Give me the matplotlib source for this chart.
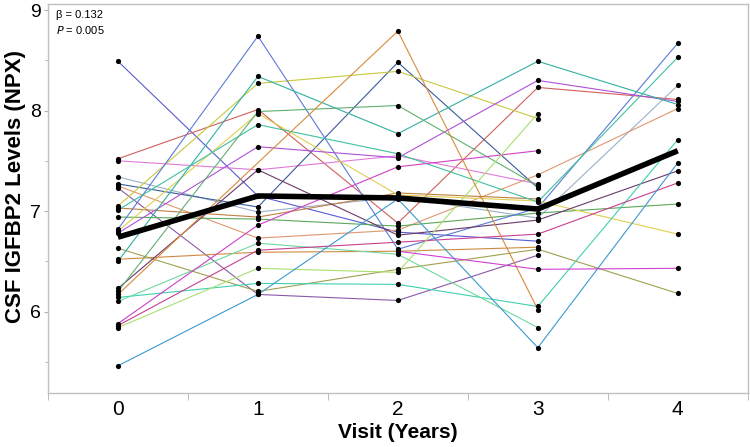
import numpy as np
import matplotlib
matplotlib.use("Agg")
import matplotlib.pyplot as plt
from matplotlib.ticker import FixedLocator

plt.rcParams['font.family'] = ['Liberation Sans', 'DejaVu Sans']

nan = np.nan
visits = [0, 1, 2, 3, 4]

# per-subject CSF IGFBP2 values at visits 0..4 (nan = no sample)
subjects = [
    [8.49, 7.15, 6.79, 6.70, nan],
    [7.52, 8.01, 6.88, 8.23, 8.11],
    [7.50, 7.41, 7.55, 7.27, nan],
    [7.34, 6.99, 7.14, 6.93, 8.25],
    [7.27, 7.04, 8.48, 7.23, nan],
    [7.25, 6.73, 6.81, 7.36, 8.02],
    [7.23, 6.17, 6.11, 6.56, nan],
    [7.05, 8.27, 8.39, 7.92, nan],
    [7.03, 6.94, 7.18, 7.12, nan],
    [6.94, 6.92, 6.85, 6.98, 7.07],
    [6.82, 8.74, 6.62, 7.03, 8.67],
    [6.80, 7.97, 7.16, 7.10, 6.77],
    [6.78, 7.64, 7.53, 8.30, 8.09],
    [6.63, 6.20, 6.42, 6.62, 6.18],
    [6.52, 6.59, 6.60, 6.64, nan],
    [6.50, 8.34, 7.77, 8.49, 8.06],
    [7.01, 7.86, 7.57, 7.09, 8.53],
    [6.23, 7.41, 6.76, 6.91, 7.40],
    [6.20, 7.99, 8.05, 7.25, nan],
    [6.14, 6.28, 6.27, 6.05, 7.71],
    [6.10, 6.68, 6.57, 5.84, nan],
    [5.88, 6.86, 7.44, 7.60, nan],
    [5.86, 6.61, 6.69, 6.77, 7.28],
    [5.84, 6.43, 6.39, 7.97, nan],
    [5.46, 6.17, 7.12, 5.64, 7.48],
    [6.17, nan, 8.79, 6.02, nan],
    [nan, nan, 6.60, 6.42, 6.43],
]

subject_colors = [
    '#5a5ad0', '#d0605a', '#e07ad8', '#9ab0c8', '#3a5a9a', '#e09870',
    '#8a5aa8', '#c8c840', '#c08040', '#5aa85a', '#5a7ad8', '#e0d050',
    '#b050d8', '#a0a050', '#d08a40', '#30b0a0', '#40c0a0', '#6a3a6a',
    '#60b070', '#40d0b0', '#70d8a0', '#d040c8', '#c84090', '#a8e070',
    '#3a9ad0', '#d88a3a', '#d040d0',
]

mean_values = [6.74, 7.15, 7.13, 7.02, 7.60]

fig = plt.figure(figsize=(7.5, 4.47), dpi=100)
ax = fig.add_axes([0.064, 0.121, 0.933, 0.870])

for vals, col in zip(subjects, subject_colors):
    vals = np.array(vals)
    ok = ~np.isnan(vals)
    xs = np.array(visits)[ok]
    ax.plot(xs, vals[ok], color=col, lw=0.8, zorder=2)
    ax.scatter(xs, vals[ok], s=14, color='black', zorder=4, linewidths=0)

ax.plot(visits, mean_values, color='black', lw=4, zorder=5, solid_capstyle='butt')

ax.set_xlim(-0.5, 4.5)
ax.set_ylim(5.19, 9.06)

ax.set_xticks(visits)
ax.xaxis.set_minor_locator(FixedLocator([-0.5, 0.5, 1.5, 2.5, 3.5, 4.5]))
ax.tick_params(axis='x', which='major', length=0, pad=5, labelsize=15)
ax.tick_params(axis='x', which='minor', length=5, color='#b0b0b0')
ax.set_yticks([6, 7, 8, 9])
ax.yaxis.set_minor_locator(FixedLocator([5.5, 6.5, 7.5, 8.5]))
ax.tick_params(axis='y', which='major', length=3, pad=2, color='#b0b0b0', labelsize=14)
ax.tick_params(axis='y', which='minor', length=2, color='#b0b0b0')

for sp in ax.spines.values():
    sp.set_color('#c0c0c0')
    sp.set_linewidth(1)

ax.set_xlabel('Visit (Years)', fontsize=15, fontweight='bold', labelpad=3)
ax.set_ylabel('CSF IGFBP2 Levels (NPX)', fontsize=16, fontweight='bold', va='center')
ax.yaxis.set_label_coords(-0.047, 0.53)

ax.text(0.012, 0.985, '\u03b2 = 0.132', transform=ax.transAxes, fontsize=8,
        va='top', ha='left')
ax.text(0.012, 0.948, '$\\it{P}$ = 0.005', transform=ax.transAxes, fontsize=8,
        va='top', ha='left')

fig.savefig('out.png', dpi=100)
